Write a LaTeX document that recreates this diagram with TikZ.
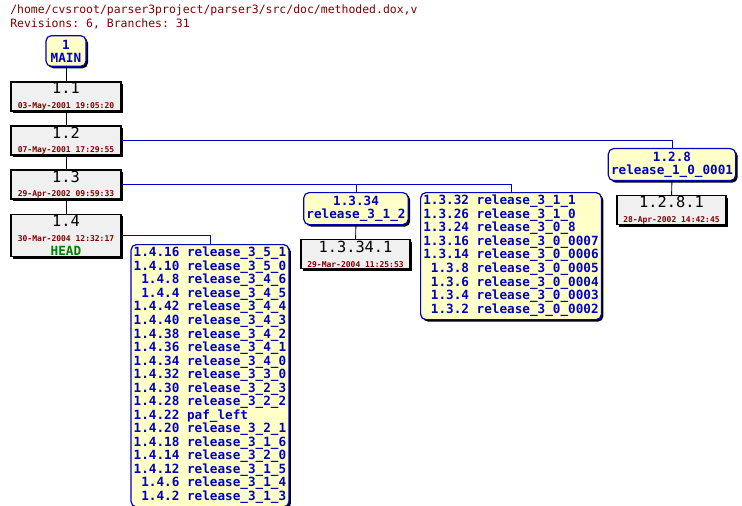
\documentclass[tikz,border=0pt]{standalone}
\usepackage{fontspec}
\setmonofont{DejaVu Sans Mono}
\usetikzlibrary{positioning,shadows}
\definecolor{revgray}{HTML}{F0F0F0}
\definecolor{tagyel}{HTML}{FFFFC8}
\definecolor{tagblue}{HTML}{0000C0}
\definecolor{datered}{HTML}{800000}
\definecolor{headgreen}{HTML}{008000}
\tikzset{
  rev/.style={draw=black,fill=revgray,line width=0.9pt,minimum width=82.5pt,inner sep=0pt,
    drop shadow={shadow xshift=1.5pt,shadow yshift=-1.5pt,opacity=1,fill=black},align=center},
  tag/.style={draw=tagblue,fill=tagyel,line width=0.9pt,rounded corners=4pt,inner sep=2pt,
    drop shadow={shadow xshift=1.5pt,shadow yshift=-1.5pt,opacity=1,fill=black},
    font=\ttfamily\bfseries\fontsize{9.5}{9.75}\selectfont,text=tagblue},
  link/.style={line width=0.7pt},
  blink/.style={line width=0.7pt,tagblue},
}
\newcommand{\revtxt}[2]{{\fontsize{11.5}{12}\selectfont #1}\\[-1pt]{\fontsize{6}{7}\selectfont\color{datered}\bfseries #2}}
\begin{document}
\begin{tikzpicture}[x=0.75pt,y=-0.75pt,font=\ttfamily]
\useasboundingbox[fill=white] (0,0) rectangle (742,506);
\node[anchor=north west,text=datered,inner sep=0pt,align=left,font=\ttfamily\fontsize{8.6}{9.8}\selectfont] (title) at (10,5)
  {/home/cvsroot/parser3project/parser3/src/doc/methoded.dox,v\\Revisions: 6, Branches: 31};

\node[tag,minimum width=30pt,minimum height=23pt,align=center] (main) at (66,51) {1\\MAIN};
\node[rev,minimum height=21.75pt] (r11) at (66,96.5) {\revtxt{1.1}{03-May-2001 19:05:20}};
\node[rev,minimum height=21.75pt] (r12) at (66,140.5) {\revtxt{1.2}{07-May-2001 17:29:55}};
\node[rev,minimum height=21.75pt] (r13) at (66,184.5) {\revtxt{1.3}{29-Apr-2002 09:59:33}};
\node[rev,minimum height=32pt] (r14) at (66,235.5) {\revtxt{1.4}{30-Mar-2004 12:32:17}\\[-1pt]{\fontsize{9.5}{10}\selectfont\bfseries\color{headgreen}HEAD}};

\node[tag,anchor=north,minimum width=111pt] (b14) at (210,244) {%
  \begin{tabular}{@{}r@{ }l@{}}
  1.4.16 & release\_3\_5\_1\\ 1.4.10 & release\_3\_5\_0\\ 1.4.8 & release\_3\_4\_6\\
  1.4.4 & release\_3\_4\_5\\ 1.4.42 & release\_3\_4\_4\\ 1.4.40 & release\_3\_4\_3\\
  1.4.38 & release\_3\_4\_2\\ 1.4.36 & release\_3\_4\_1\\ 1.4.34 & release\_3\_4\_0\\
  1.4.32 & release\_3\_3\_0\\ 1.4.30 & release\_3\_2\_3\\ 1.4.28 & release\_3\_2\_2\\
  1.4.22 & paf\_left\\ 1.4.20 & release\_3\_2\_1\\ 1.4.18 & release\_3\_1\_6\\
  1.4.14 & release\_3\_2\_0\\ 1.4.12 & release\_3\_1\_5\\ 1.4.6 & release\_3\_1\_4\\
  1.4.2 & release\_3\_1\_3
  \end{tabular}};

\node[tag,anchor=north,minimum width=75pt,minimum height=24pt,align=center] (b1334) at (356,192) {1.3.34\\release\_3\_1\_2};
\node[rev,anchor=north,minimum width=81.75pt,minimum height=21.75pt] (r13341) at (355.5,239) {\revtxt{1.3.34.1}{29-Mar-2004 11:25:53}};

\node[tag,anchor=north,minimum width=127.5pt] (b13) at (511,192) {%
  \begin{tabular}{@{}r@{ }l@{}}
  1.3.32 & release\_3\_1\_1\\ 1.3.26 & release\_3\_1\_0\\ 1.3.24 & release\_3\_0\_8\\
  1.3.16 & release\_3\_0\_0007\\ 1.3.14 & release\_3\_0\_0006\\ 1.3.8 & release\_3\_0\_0005\\
  1.3.6 & release\_3\_0\_0004\\ 1.3.4 & release\_3\_0\_0003\\ 1.3.2 & release\_3\_0\_0002
  \end{tabular}};

\node[tag,anchor=north,minimum width=91.5pt,minimum height=24pt,align=center] (b128) at (672,148) {1.2.8\\release\_1\_0\_0001};
\node[rev,anchor=north,minimum width=81.75pt,minimum height=21.75pt] (r1281) at (671.5,195) {\revtxt{1.2.8.1}{28-Apr-2002 14:42:45}};

\draw[link] (main) -- (r11);
\draw[link] (r11) -- (r12);
\draw[link] (r12) -- (r13);
\draw[link] (r13) -- (r14);
\draw[blink] (r14.east) -| (b14.north);
\draw[blink] (r13.east) -| (b13.north);
\draw[blink] (r13.east) -| (b1334.north);
\draw[blink] (r12.east) -| (b128.north);
\draw[link] (b1334) -- (r13341);
\draw[link] (b128) -- (r1281);
\end{tikzpicture}
\end{document}
